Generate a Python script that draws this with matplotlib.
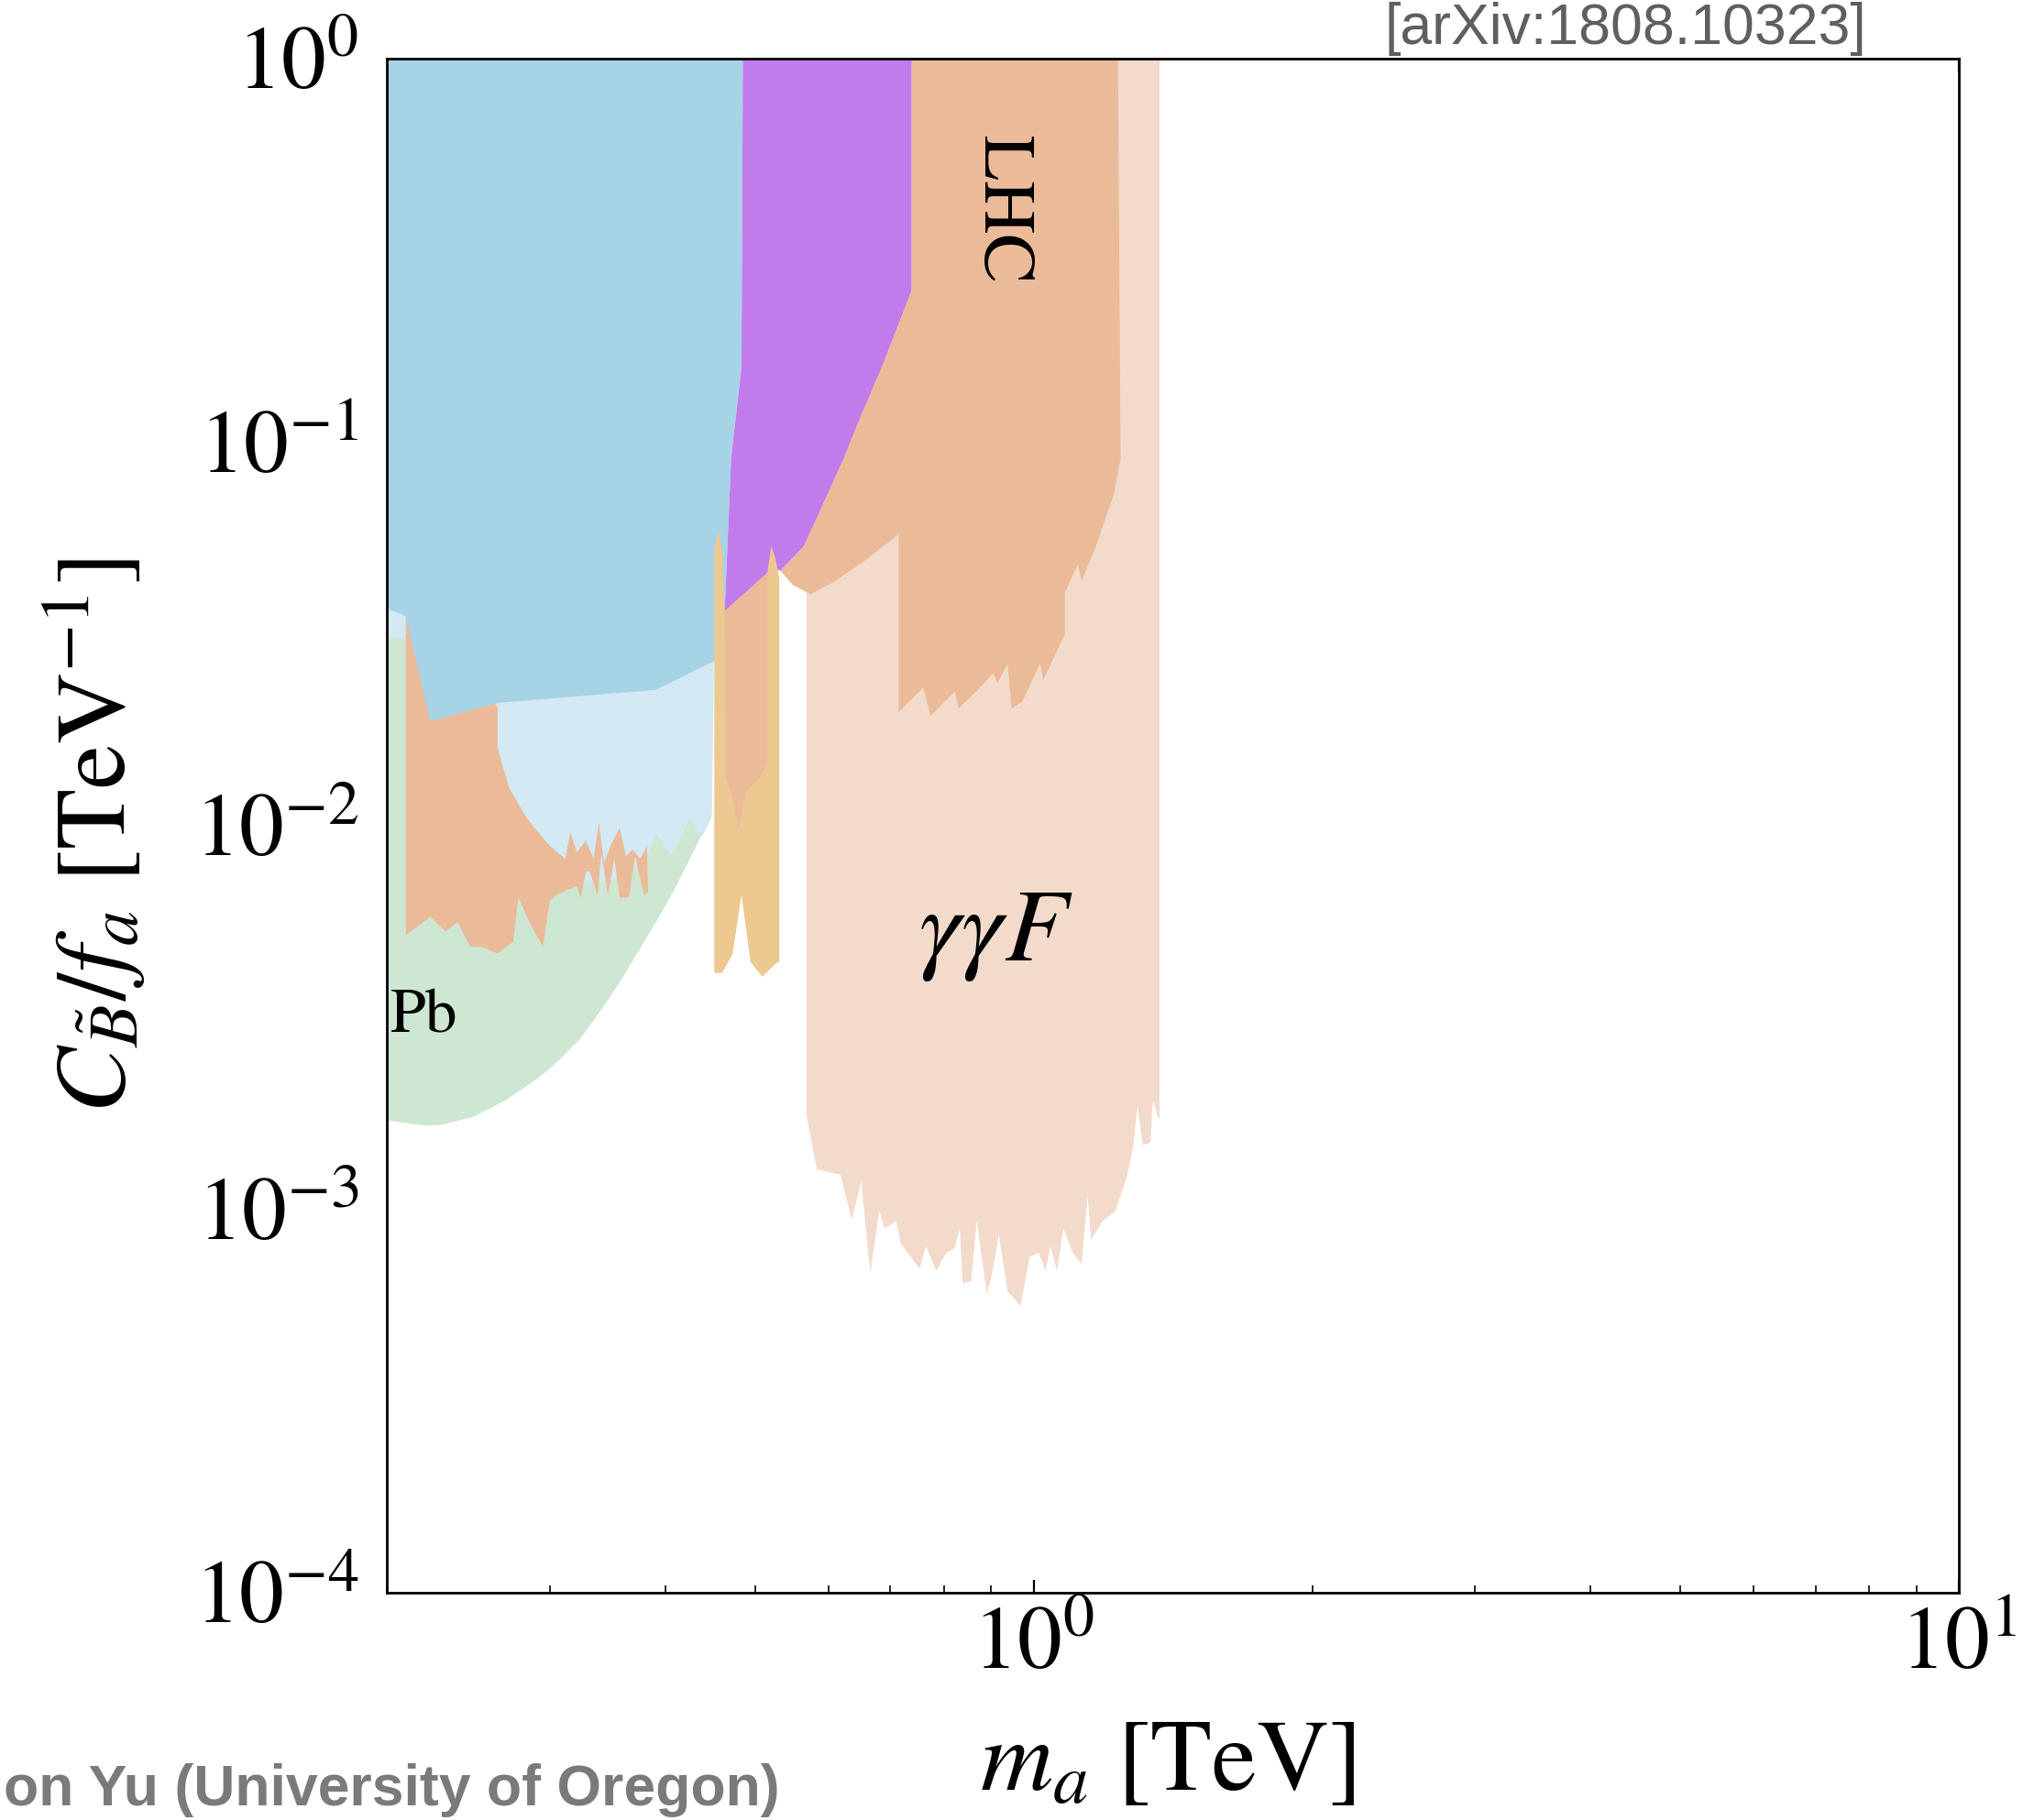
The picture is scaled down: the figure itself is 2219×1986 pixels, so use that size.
import matplotlib
matplotlib.use("Agg")
import matplotlib.pyplot as plt
from matplotlib.ticker import LogLocator, NullFormatter

plt.rcParams["mathtext.fontset"] = "stix"
plt.rcParams["font.family"] = ["STIXGeneral", "DejaVu Serif"]

# ---- excluded regions in the (m_a [TeV], C_B/f_a [TeV^-1]) plane ----
# LHC searches, low-mass (orange, bottom left)
lhc_low_m = [0.2096, 0.2635, 0.2635, 0.2712, 0.2838, 0.2998, 0.3117, 0.3158, 0.3209, 0.3282,
             0.3346, 0.3389, 0.3433, 0.3500, 0.3569, 0.3628, 0.3687, 0.3758, 0.3820,
             0.3832, 0.3795, 0.3735, 0.3711, 0.3651, 0.3569, 0.3524, 0.3467, 0.3411, 0.3378,
             0.3314, 0.3282, 0.3240, 0.3209, 0.3047, 0.2998, 0.2950, 0.2866, 0.2774, 0.2739,
             0.2635, 0.2534, 0.2462, 0.2384, 0.2315, 0.2228, 0.2096]
lhc_low_c = [0.0366, 0.0204, 0.0159, 0.0125, 0.0104, 0.00886, 0.00820, 0.00958, 0.00853, 0.00914,
             0.00820, 0.0102, 0.00801, 0.00900, 0.00988, 0.00833, 0.00866, 0.00820, 0.00886,
             0.00670, 0.00659, 0.00770, 0.00833, 0.00649, 0.00649, 0.00820, 0.00659, 0.00846, 0.00659,
             0.00759, 0.00759, 0.00649, 0.00696, 0.00659, 0.00634, 0.00483, 0.00547, 0.00649, 0.00498,
             0.00464, 0.00483, 0.00483, 0.00560, 0.00530, 0.00578, 0.00518]

# Pb-Pb ultraperipheral collisions (green)
pb_m = [0.200, 0.4488, 0.4488, 0.4383, 0.4221, 0.4061, 0.3913, 0.3765, 0.3626, 0.3489, 0.3360,
        0.3235, 0.3113, 0.2998, 0.2885, 0.2778, 0.2674, 0.2574, 0.2479, 0.2385, 0.2297, 0.2212,
        0.2011, 0.200]
pb_c = [0.0338, 0.0338, 0.0105, 0.00951, 0.00791, 0.00659, 0.00564, 0.00483, 0.00415, 0.00359, 0.00315,
        0.00278, 0.00253, 0.00232, 0.00216, 0.00203, 0.00191, 0.00182, 0.00174, 0.00170, 0.00166, 0.00165,
        0.00170, 0.00170]

# light blue band
lblue_m = [0.200, 0.4518, 0.4518, 0.4488, 0.4387, 0.4249, 0.4061, 0.3907, 0.3795, 0.3478, 0.3117,
           0.2096, 0.2096, 0.200]
lblue_c = [0.0380, 0.0380, 0.0270, 0.0106, 0.00936, 0.0104, 0.00839, 0.00951, 0.00801, 0.00713, 0.00713,
           0.00713, 0.0308, 0.0308]

# blue band
blue_m = [0.200, 0.485, 0.4834, 0.4711, 0.4636, 0.4532, 0.3907, 0.2635, 0.2228, 0.2096, 0.200]
blue_c = [1.0, 1.0, 0.1568, 0.0909, 0.0363, 0.0270, 0.0226, 0.0209, 0.0187, 0.0352, 0.0368]

# purple band
purple_m = [0.485, 0.7382, 0.7382, 0.6854, 0.6425, 0.6239, 0.5646, 0.5326, 0.5224, 0.4636, 0.4711, 0.4834]
purple_c = [1.0, 1.0, 0.2482, 0.1568, 0.1087, 0.0909, 0.0535, 0.0462, 0.0470, 0.0363, 0.0909, 0.1568]

# LHC piece between the two narrow resonance spikes
lhc_mid_m = [0.4606, 0.5293, 0.5293, 0.4606]
lhc_mid_c = [0.0366, 0.0499, 0.00973, 0.00973]

# narrow yellow strip
yellow_m = [0.4518, 0.4518, 0.4567, 0.4606, 0.4636, 0.4651, 0.4726, 0.4803, 0.4883, 0.5044, 0.5157,
            0.5157, 0.5208, 0.5258, 0.5309, 0.5309, 0.5277, 0.5092, 0.4945, 0.4834, 0.4726, 0.4606]
yellow_c = [0.00413, 0.0519, 0.0592, 0.0519, 0.0352, 0.0133, 0.01182, 0.00973, 0.01229, 0.0133, 0.0144,
            0.0462, 0.0535, 0.0499, 0.0444, 0.00440, 0.00440, 0.00404, 0.00440, 0.00659, 0.00461, 0.00413]

# gamma gamma fusion reach (light peach)
ggf_m = [0.568, 0.568, 0.583, 0.618, 0.636, 0.651, 0.666, 0.681, 0.690, 0.710, 0.719, 0.753, 0.765,
         0.785, 0.805, 0.821, 0.832, 0.838, 0.856, 0.868, 0.890, 0.902, 0.917, 0.937, 0.968, 0.990,
         1.013, 1.030, 1.043, 1.060, 1.077, 1.102, 1.127, 1.144, 1.153, 1.187, 1.226, 1.262, 1.282,
         1.295, 1.312, 1.337, 1.346, 1.363, 1.368, 1.368]
ggf_c = [1.0, 0.00176, 0.00127, 0.00123, 0.00094, 0.00118, 0.00068, 0.00099, 0.00089, 0.00093, 0.00081,
         0.00070, 0.00080, 0.00069, 0.00077, 0.00079, 0.00089, 0.00064, 0.00065, 0.00093, 0.00060,
         0.00068, 0.00086, 0.00061, 0.00056, 0.00075, 0.00077, 0.00069, 0.00080, 0.00069, 0.00089,
         0.00077, 0.00072, 0.00108, 0.00083, 0.00093, 0.00099, 0.00122, 0.00147, 0.00186, 0.00147,
         0.00149, 0.00193, 0.00173, 0.00173, 1.0]

# LHC searches, main region (orange)
lhc_m = [0.7382, 1.2336, 1.2416, 1.2218, 1.1677, 1.1269, 1.1160, 1.0807, 1.0807, 1.0245, 1.0163,
         0.9714, 0.9466, 0.9374, 0.9135, 0.9048, 0.8676, 0.8292, 0.8225, 0.8003, 0.7737, 0.7601,
         0.7148, 0.7148, 0.6486, 0.6100, 0.5737, 0.5493, 0.5326, 0.5646, 0.6239, 0.6425, 0.6854, 0.7382]
lhc_c = [1.0, 1.0, 0.0909, 0.0737, 0.0535, 0.0434, 0.0480, 0.0404, 0.0315, 0.0240, 0.0264,
         0.0210, 0.0202, 0.0264, 0.0235, 0.0250, 0.0224, 0.0202, 0.0224, 0.0210, 0.0193, 0.0229,
         0.0198, 0.0574, 0.0480, 0.0434, 0.0401, 0.0424, 0.0462, 0.0535, 0.0909, 0.1087, 0.1568, 0.2482]

x_ticks = [1, 10]
x_tick_labels = [r"$10^{0}$", r"$10^{1}$"]
y_ticks = [1e-4, 1e-3, 1e-2, 1e-1, 1]
y_tick_labels = [r"$10^{-4}$", r"$10^{-3}$", r"$10^{-2}$", r"$10^{-1}$", r"$10^{0}$"]

c_green = "#CEE7D3"
c_lblue = "#D3E9F4"
c_blue = "#A7D3E7"
c_purple = "#C27BEB"
c_orange = "#EBBB99"
c_yellow = "#EDC991"
c_peach = "#F3DBCC"

fig = plt.figure(figsize=(22.19, 19.86), dpi=100)
ax = fig.add_axes([0.1902, 0.1249, 0.7729, 0.8429])
ax.set_xscale("log")
ax.set_yscale("log")
ax.set_xlim(0.2, 10)
ax.set_ylim(1e-4, 1)

# drawn bottom to top
layers = [
    (ggf_m, ggf_c, c_peach),
    (pb_m, pb_c, c_green),
    (lblue_m, lblue_c, c_lblue),
    (lhc_low_m, lhc_low_c, c_orange),
    (blue_m, blue_c, c_blue),
    (lhc_mid_m, lhc_mid_c, c_orange),
    (purple_m, purple_c, c_purple),
    (lhc_m, lhc_c, c_orange),
    (yellow_m, yellow_c, c_yellow),
]
for z, (m, c, col) in enumerate(layers):
    ax.fill(m, c, color=col, lw=0, zorder=1 + z * 0.1)

ax.text(0.9224, 0.405, "LHC", rotation=-90, ha="center", va="center",
        fontsize=58, zorder=3)
ax.text(0.911, 0.00445, r"$\gamma\gamma F$", ha="center", va="baseline",
        fontsize=82, zorder=3)
ax.text(0.2018, 0.00289, "Pb", ha="left", va="baseline", fontsize=50, zorder=3)

ax.set_xticks(x_ticks)
ax.set_xticklabels(x_tick_labels)
ax.set_yticks(y_ticks)
ax.set_yticklabels(y_tick_labels)
ax.xaxis.set_minor_locator(LogLocator(base=10, subs=range(2, 10), numticks=20))
ax.xaxis.set_minor_formatter(NullFormatter())
ax.yaxis.set_minor_locator(LogLocator(base=10, subs=[], numticks=20))
ax.tick_params(axis="x", which="major", direction="in", length=10, width=1.6,
               top=True, labelsize=70, pad=12)
ax.tick_params(axis="x", which="minor", direction="in", length=6, width=1.2, top=False)
ax.tick_params(axis="y", which="both", length=0, labelsize=70, pad=22)

for s in ax.spines.values():
    s.set_linewidth(2.0)
    s.set_color("black")
    s.set_zorder(5)

ax.set_xlabel(r"$m_a\ [\mathrm{TeV}]$", fontsize=79)
ax.xaxis.label.set_va("center")
ax.xaxis.set_label_coords(0.4968, -0.113)
ax.set_ylabel(r"$C_{\tilde{B}}/f_a\ [\mathrm{TeV}^{-1}]$", fontsize=78)
ax.yaxis.label.set_va("center")
ax.yaxis.set_label_coords(-0.186, 0.4934)

fig.text(0.6805, 1 - 48 / 1986, "[arXiv:1808.10323]", family="Liberation Sans",
         fontsize=45, color="#5f5f5f", ha="left", va="baseline")
fig.text(0.002, 16 / 1986, "on Yu (University of Oregon)", family="Liberation Sans",
         fontweight="bold", fontsize=45, color="#7a7a7a", ha="left", va="baseline")

fig.savefig("out.png", dpi=100)
